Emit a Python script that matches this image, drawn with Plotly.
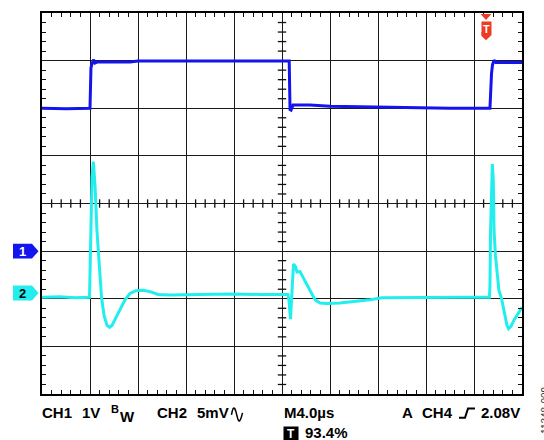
"""Scope capture: CH1 switching node vs CH2 output ripple (4 us/div)."""

import numpy as np
import plotly.graph_objects as go

# time axis in microseconds (M4.0us -> 4 us per division, 10 divisions)
# amplitudes in screen divisions (8 divisions, 0 at the bottom)
ch1_time = [0.0, 2.0, 4.0, 4.04, 4.08, 4.17, 4.29, 4.42, 4.58, 7.33, 8.0, 14.0,
            20.6, 20.67, 20.75, 20.92, 22.33, 24.0, 28.17, 34.0, 37.33, 37.38,
            37.46, 37.54, 37.67, 37.83, 40.0]
ch1_level = [6.0, 5.99, 6.0, 6.66, 6.85, 6.93, 7.02, 6.95, 6.97, 6.97, 6.99, 6.99,
             6.99, 5.97, 5.96, 6.07, 6.07, 6.04, 6.02, 6.0, 6.0, 6.35,
             6.73, 6.91, 7.01, 6.96, 6.96]

ch2_time = [0.0, 1.5, 2.75, 3.96, 4.0, 4.08, 4.17, 4.28, 4.42, 4.58, 4.75, 4.96,
            5.17, 5.42, 5.63, 5.83, 6.17, 6.5, 6.92, 7.33, 7.83, 8.42, 9.0, 9.67,
            10.67, 13.17, 15.67, 18.17, 20.5, 20.58, 20.71, 20.79, 20.88, 20.96,
            21.13, 21.25, 21.5, 21.92, 22.33, 22.75, 23.17, 23.75, 24.83, 26.08,
            27.33, 28.33, 31.5, 34.83, 37.29, 37.33, 37.38, 37.46, 37.53, 37.61,
            37.67, 37.79, 37.92, 38.08, 38.29, 38.5, 38.75, 38.88, 39.08, 39.33,
            39.67, 40.0]
ch2_level = [2.03, 2.04, 2.02, 2.03, 2.53, 3.72, 4.57, 4.88, 4.37, 3.43, 2.7, 2.03,
             1.65, 1.44, 1.4, 1.44, 1.61, 1.78, 1.98, 2.11, 2.17, 2.18, 2.15, 2.09,
             2.08, 2.09, 2.1, 2.09, 2.09, 1.96, 1.57, 1.96, 2.49, 2.73,
             2.67, 2.56, 2.57, 2.38, 2.17, 1.98, 1.91, 1.9, 1.91, 1.94,
             1.98, 2.02, 2.03, 2.03, 2.03, 2.28, 3.43, 4.57, 4.83, 4.47,
             3.43, 2.9, 2.49, 2.17, 2.01, 1.71, 1.44, 1.37, 1.42, 1.55,
             1.69, 1.82]

ch1_ref = 3.0
ch2_ref = 2.12
trigger_time = 37.0

status_line = [("CH1", 40), ("1V", 80), ("CH2", 155), ("5mV", 195),
               ("M4.0µs", 282), ("A", 400), ("CH4", 420), ("2.08V", 479)]
trigger_pct = "93.4%"

BLUE = "#1414ee"
CYAN = "#22eeee"
RED = "#ee3b24"
FONT = "Liberation Sans, Arial, sans-serif"

# plot area in pixels
L, T, R, B = 42, 11, 522, 394


def px(x):
    return (x - L) / (R - L)


def py(y):
    return (B - y) / (B - T)


fig = go.Figure()

# minor ticks along the centre graticule lines
cx = [v for v in np.arange(0, 40.01, 0.8) if abs(v / 4 - round(v / 4)) > 1e-6]
cy = [v for v in np.arange(0, 8.01, 0.2) if abs(v - round(v)) > 1e-6]
tick_style = dict(size=6, line=dict(width=1.3, color="#111"))
fig.add_trace(go.Scatter(x=cx, y=[4] * len(cx), mode="markers", hoverinfo="skip",
                         marker=dict(symbol="line-ns", **tick_style)))
fig.add_trace(go.Scatter(x=[20] * len(cy), y=cy, mode="markers", hoverinfo="skip",
                         marker=dict(symbol="line-ew", **tick_style)))

fig.add_trace(go.Scatter(x=ch1_time, y=ch1_level, mode="lines", name="CH1",
                         line=dict(color=BLUE, width=3)))
fig.add_trace(go.Scatter(x=ch2_time, y=ch2_level, mode="lines", name="CH2",
                         line=dict(color=CYAN, width=3)))

axis_style = dict(
    showgrid=True, gridcolor="#1a1a1a", gridwidth=1.3, zeroline=False,
    showline=True, linecolor="black", linewidth=2, mirror="allticks",
    ticks="", showticklabels=False, fixedrange=True,
)
fig.update_xaxes(range=[0, 40], dtick=4,
                 minor=dict(dtick=0.8, ticks="inside", ticklen=4,
                            tickcolor="#111", tickwidth=1.3, showgrid=False),
                 **axis_style)
fig.update_yaxes(range=[0, 8], dtick=1,
                 minor=dict(dtick=0.2, ticks="inside", ticklen=4,
                            tickcolor="#111", tickwidth=1.3, showgrid=False),
                 **axis_style)

shapes = []
annotations = []

# channel ground markers on the left
for label, level, fill, txt in [("1", ch1_ref, BLUE, "white"), ("2", ch2_ref, CYAN, "black")]:
    h = 7.5 / 47.9
    path = (f"M {px(13)} {level - h} L {px(32)} {level - h} L {px(38.5)} {level} "
            f"L {px(32)} {level + h} L {px(13)} {level + h} Z")
    shapes.append(dict(type="path", path=path, xref="paper", yref="y",
                       fillcolor=fill, line=dict(width=0)))
    annotations.append(dict(x=px(22), y=level, xref="paper", yref="y", text=f"<b>{label}</b>",
                            xanchor="center", yanchor="middle",
                            showarrow=False, font=dict(family=FONT, size=13, color=txt)))

# trigger position marker at the top
tw = 4.5 / 480 * 40
shapes.append(dict(type="path", xref="x", yref="paper", fillcolor=RED, line=dict(width=0),
                   path=(f"M {trigger_time - 1.2 * tw} {py(12)} L {trigger_time + 1.2 * tw} {py(12)} "
                         f"L {trigger_time} {py(18)} Z")))
shapes.append(dict(type="path", xref="x", yref="paper", fillcolor=RED, line=dict(width=0),
                   path=(f"M {trigger_time - tw} {py(30)} L {trigger_time + tw} {py(30)} "
                         f"L {trigger_time + tw} {py(34)} L {trigger_time} {py(38.5)} "
                         f"L {trigger_time - tw} {py(34)} Z")))
annotations.append(dict(x=trigger_time, y=py(26.5), xref="x", yref="paper", text="<b>T</b>",
                        xanchor="center", yanchor="middle",
                        showarrow=False, bgcolor=RED, width=9, height=13, borderpad=0,
                        font=dict(family=FONT, size=11, color="white")))

# status line
for text, x0 in status_line:
    annotations.append(dict(x=px(x0), y=py(413), xref="paper", yref="paper", text=f"<b>{text}</b>",
                            xanchor="left", yanchor="middle", showarrow=False,
                            font=dict(family=FONT, size=15, color="black")))
annotations.append(dict(x=px(109), y=py(409), xref="paper", yref="paper", text="<b>B</b>",
                        xanchor="left", yanchor="middle", showarrow=False,
                        font=dict(family=FONT, size=11, color="black")))
annotations.append(dict(x=px(118), y=py(416.5), xref="paper", yref="paper", text="<b>W</b>",
                        xanchor="left", yanchor="middle", showarrow=False,
                        font=dict(family=FONT, size=15, color="black")))
annotations.append(dict(x=px(303), y=py(433), xref="paper", yref="paper", text=f"<b>{trigger_pct}</b>",
                        xanchor="left", yanchor="middle", showarrow=False,
                        font=dict(family=FONT, size=15, color="black")))

# AC coupling symbol
shapes.append(dict(type="path", xref="paper", yref="paper", line=dict(color="black", width=1.5),
                   path=(f"M {px(231.5)} {py(415)} Q {px(233.5)} {py(403)} {px(236)} {py(412)} "
                         f"L {px(237.5)} {py(418)} Q {px(239.5)} {py(426)} {px(242.5)} {py(413)}")))
# rising edge trigger symbol
shapes.append(dict(type="path", xref="paper", yref="paper", line=dict(color="black", width=2),
                   path=(f"M {px(459)} {py(418)} L {px(465)} {py(418)} L {px(468)} {py(408.5)} "
                         f"L {px(475)} {py(408.5)}")))
# trigger readout box
annotations.append(dict(x=px(291.2), y=py(433.3), xref="paper", yref="paper", text="<b>T</b>",
                        xanchor="center", yanchor="middle",
                        showarrow=False, bgcolor="black", width=14, height=13, borderpad=0,
                        font=dict(family=FONT, size=12, color="white")))

annotations.append(dict(x=px(546), y=py(410), xref="paper", yref="paper", text="11348-009",
                        textangle=-90, showarrow=False, xanchor="center", yanchor="middle",
                        font=dict(family=FONT, size=10, color="#333")))

fig.update_layout(
    width=544, height=440,
    margin=dict(l=L, r=544 - R, t=T, b=440 - B),
    paper_bgcolor="white", plot_bgcolor="white",
    showlegend=False,
    shapes=shapes,
    annotations=annotations,
)

# the page body has a default 8px margin; drop it so the figure fills the window
fig.write_html("out.html", config={"displayModeBar": False},
               post_script="document.body.style.margin = '0';")
